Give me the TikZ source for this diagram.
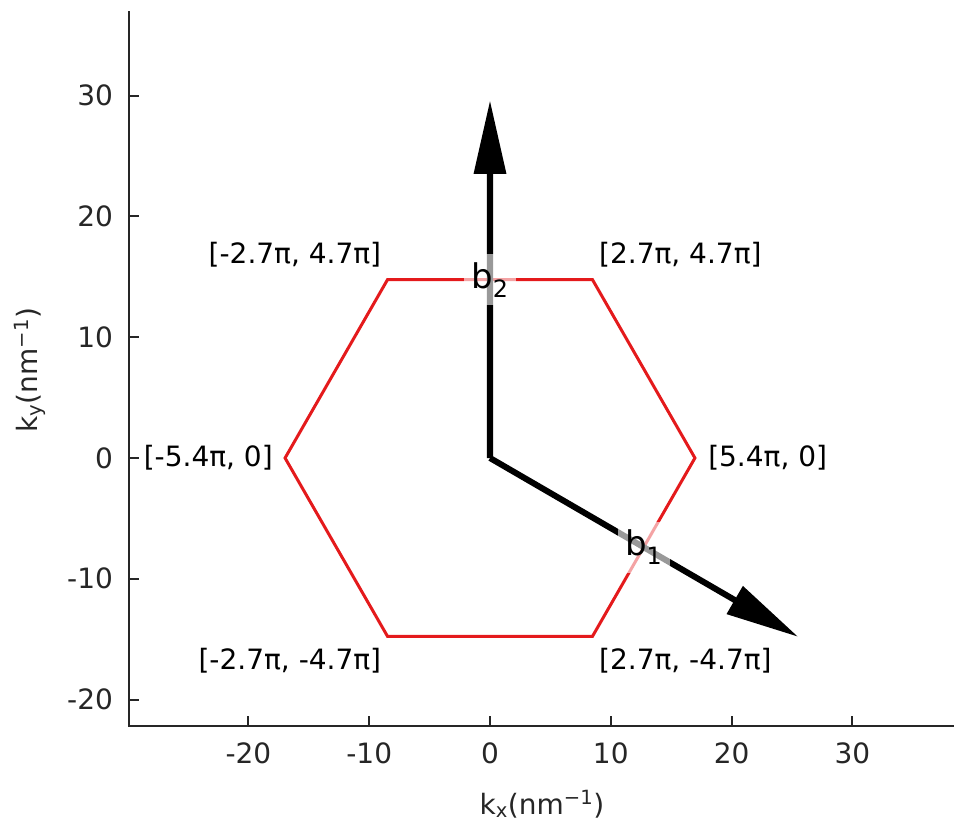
\documentclass[tikz,border=0pt]{standalone}
\usepackage{fontspec}
\setmainfont{DejaVu Sans}
\definecolor{hexred}{RGB}{228,26,28}
\definecolor{axgray}{RGB}{38,38,38}
\begin{document}
\begin{tikzpicture}[x=12.08pt,y=12.08pt,
  spine/.style={draw=axgray,line width=2pt,line cap=rect},
  tickmark/.style={draw=axgray,line width=2pt},
  ticklab/.style={text=axgray,inner sep=0pt,font=\fontsize{28}{33}\selectfont},
  annot/.style={text=black,inner sep=0pt,font=\fontsize{28}{33}\selectfont},
  veclab/.style={fill=white,fill opacity=0.6,text opacity=1,inner sep=0pt,
    minimum width=52pt,minimum height=51pt,font=\fontsize{34}{40}\selectfont},
  hexline/.style={draw=hexred,line width=3pt},
  arrowfill/.style={fill=black,draw=none}]
\useasboundingbox (-40.563,-30.960) rectangle (39.321,37.914);
% axes
\coordinate (C) at (-29.88,-22.19);
\coordinate (T) at (-29.88,36.92);
\coordinate (R) at (38.33,-22.19);
\draw[spine] (T) -- (C) -- (R);
\foreach \v in {-20,-10,0,10,20,30}{
  \draw[tickmark] (\v,-22.19) -- (\v,-21.36);
  \node[ticklab,anchor=north] (xt\v) at (\v,-23.52) {\v};
  \draw[tickmark] (-29.88,\v) -- (-29.05,\v);
  \node[ticklab,anchor=east] (yt\v) at (-31.20,\v) {\v};
}
\node[ticklab,anchor=base] (xlab) at (4.30,-29.47) {k\textsubscript{x}(nm\textsuperscript{−1})};
\node[ticklab,anchor=base,rotate=90] (ylab) at (-37.42,7.28) {k\textsubscript{y}(nm\textsuperscript{−1})};
% hexagon
\coordinate (h1) at (16.965,0);
\coordinate (h2) at (8.482,14.765);
\coordinate (h3) at (-8.482,14.765);
\coordinate (h4) at (-16.965,0);
\coordinate (h5) at (-8.482,-14.765);
\coordinate (h6) at (8.482,-14.765);
\draw[hexline] (h1) -- (h2) -- (h3) -- (h4) -- (h5) -- (h6) -- cycle;
% vectors
\coordinate (O) at (0,0);
\fill[arrowfill] (-0.25,0) -- (-0.25,23.53) -- (-1.36,23.53) -- (0,29.53)
  -- (1.36,23.53) -- (0.25,23.53) -- (0.25,0) -- cycle;
\fill[arrowfill] (0.1255,0.2162) -- (20.381,-11.539) -- (20.934,-10.587)
  -- (25.447,-14.765) -- (19.578,-12.923) -- (20.131,-11.971)
  -- (-0.1255,-0.2162) -- cycle;
\node[veclab] (b2) at (0,14.765) {b\textsubscript{2}};
\node[veclab] (b1) at (12.72,-7.38) {b\textsubscript{1}};
% vertex labels
\node[annot,anchor=east] (l3) at (-8.99,16.85) {[-2.7π, 4.7π]};
\node[annot,anchor=west] (l2) at (9.02,16.85) {[2.7π, 4.7π]};
\node[annot,anchor=east] (l4) at (-17.97,0.05) {[-5.4π, 0]};
\node[annot,anchor=west] (l1) at (18.05,0.05) {[5.4π, 0]};
\node[annot,anchor=east] (l5) at (-8.99,-16.76) {[-2.7π, -4.7π]};
\node[annot,anchor=west] (l6) at (9.02,-16.76) {[2.7π, -4.7π]};
\end{tikzpicture}
\end{document}
